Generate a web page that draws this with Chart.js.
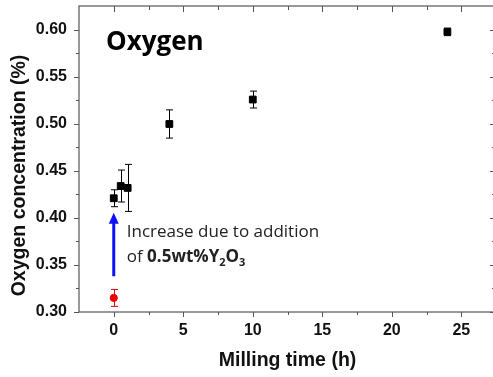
<!DOCTYPE html>
<html>
<head>
<meta charset="utf-8">
<script src="https://cdn.jsdelivr.net/npm/chart.js@4/dist/chart.umd.min.js"></script>
<style>
  html, body { margin: 0; padding: 0; background: #fff; }
  canvas { display: block; }
</style>
</head>
<body>
<canvas id="chart" width="493" height="377"></canvas>
<script>
// Milled powder (black squares) and the unmilled reference (red dot)
const millTime = [0, 0.5, 1, 4, 10, 24];
const oxygen = [0.421, 0.434, 0.432, 0.500, 0.526, 0.598];
const oxygenErr = [0.009, 0.017, 0.025, 0.015, 0.009, 0.004];

const refTime = [0];
const refOxygen = [0.315];
const refErr = [0.009];

// Axis ticks; the original frame ends at 27.5 h, just past the cropped right edge
const xMajor = [0, 5, 10, 15, 20, 25];
const xMinor = [2.5, 7.5, 12.5, 17.5, 22.5];
const xFrameEnd = 27.5;
const yMajor = [0.30, 0.35, 0.40, 0.45, 0.50, 0.55, 0.60];
const yMinor = [0.325, 0.375, 0.425, 0.475, 0.525, 0.575];

// Arrow (x, y from, y to) and annotation anchors
const arrowAt = [0, 0.338, 0.4057];
const noteY = [0.380, 0.3527];

const frameColor = '#555';
const titleFont = "bold 19.5px 'Liberation Sans', Arial, sans-serif";

function toPoints(xs, ys) {
    return xs.map((v, i) => ({ x: v, y: ys[i] }));
}

function line(ctx, x1, y1, x2, y2) {
    ctx.beginPath();
    ctx.moveTo(x1, y1);
    ctx.lineTo(x2, y2);
    ctx.stroke();
}

// error bars under the markers
const errorBars = {
    id: 'errorBars',
    beforeDatasetsDraw(chart) {
        const { ctx, scales: { x, y } } = chart;
        const sets = [
            { xs: millTime, ys: oxygen, es: oxygenErr, color: '#000' },
            { xs: refTime, ys: refOxygen, es: refErr, color: '#e00000' }
        ];
        ctx.save();
        ctx.lineWidth = 1;
        sets.forEach(s => {
            ctx.strokeStyle = s.color;
            s.xs.forEach((t, i) => {
                const px = Math.round(x.getPixelForValue(t)) + 0.5;
                const top = y.getPixelForValue(s.ys[i] + s.es[i]);
                const bot = y.getPixelForValue(s.ys[i] - s.es[i]);
                line(ctx, px, top, px, bot);
                line(ctx, px - 3.5, top, px + 3.5, top);
                line(ctx, px - 3.5, bot, px + 3.5, bot);
            });
        });
        ctx.restore();
    }
};

// frame, mirrored ticks, arrow and texts
const decorations = {
    id: 'decorations',
    afterDraw(chart) {
        const { ctx, chartArea: a, scales: { x, y } } = chart;
        const right = x.getPixelForValue(xFrameEnd);
        ctx.save();
        ctx.strokeStyle = frameColor;
        ctx.lineWidth = 1.2;
        ctx.strokeRect(a.left, a.top, right - a.left, a.bottom - a.top);

        ctx.lineWidth = 1;
        xMajor.concat(xMinor).forEach(v => {
            const len = xMajor.includes(v) ? 5 : 3;
            const px = Math.round(x.getPixelForValue(v)) + 0.5;
            line(ctx, px, a.bottom, px, a.bottom + len);
            line(ctx, px, a.top, px, a.top + len + 1);
        });
        yMajor.concat(yMinor).forEach(v => {
            const len = yMajor.includes(v) ? 5 : 3;
            const py = Math.round(y.getPixelForValue(v)) + 0.5;
            line(ctx, a.left, py, a.left - len, py);
            line(ctx, right, py, right - len - 1, py);
        });

        // blue arrow
        const ax = x.getPixelForValue(arrowAt[0]);
        const ay1 = y.getPixelForValue(arrowAt[1]);
        const ay2 = y.getPixelForValue(arrowAt[2]);
        ctx.strokeStyle = '#1010ff';
        ctx.fillStyle = '#1010ff';
        ctx.lineWidth = 3;
        line(ctx, ax, ay1, ax, ay2 + 8);
        ctx.beginPath();
        ctx.moveTo(ax, ay2);
        ctx.lineTo(ax - 5, ay2 + 11);
        ctx.lineTo(ax + 5, ay2 + 11);
        ctx.closePath();
        ctx.fill();

        // annotation
        ctx.fillStyle = '#222';
        ctx.textAlign = 'left';
        ctx.textBaseline = 'alphabetic';
        const nx = ax + 13;
        ctx.font = "17px 'Open Sans', sans-serif";
        ctx.fillText('Increase due to addition', nx, y.getPixelForValue(noteY[0]));
        const parts = [
            { t: 'of ', f: "17px 'Open Sans', sans-serif", dy: 0 },
            { t: '0.5wt%Y', f: "bold 17px 'Open Sans', sans-serif", dy: 0 },
            { t: '2', f: "bold 11px 'Open Sans', sans-serif", dy: 4 },
            { t: 'O', f: "bold 17px 'Open Sans', sans-serif", dy: 0 },
            { t: '3', f: "bold 11px 'Open Sans', sans-serif", dy: 4 }
        ];
        let cx = nx;
        const by = y.getPixelForValue(noteY[1]);
        parts.forEach(p => {
            ctx.font = p.f;
            ctx.fillText(p.t, cx, by + p.dy);
            cx += ctx.measureText(p.t).width;
        });

        // panel label
        ctx.fillStyle = '#000';
        ctx.font = "bold 26px 'Open Sans', sans-serif";
        ctx.fillText('Oxygen', a.left + 27, a.top + 44);

        // axis titles
        ctx.fillStyle = '#111';
        ctx.font = titleFont;
        ctx.textAlign = 'center';
        ctx.fillText('Milling time (h)', 287.5, 366);
        ctx.translate(24.5, 175.5);
        ctx.rotate(-Math.PI / 2);
        ctx.fillText('Oxygen concentration (%)', 0, 0);
        ctx.restore();
    }
};

new Chart(document.getElementById('chart'), {
    type: 'scatter',
    data: {
        datasets: [
            {
                label: 'Milled',
                data: toPoints(millTime, oxygen),
                pointStyle: 'rect',
                pointRadius: 4.8,
                pointHoverRadius: 4.8,
                backgroundColor: '#000',
                borderColor: '#000',
                borderWidth: 1
            },
            {
                label: 'As received',
                data: toPoints(refTime, refOxygen),
                pointStyle: 'circle',
                pointRadius: 3.6,
                pointHoverRadius: 3.6,
                backgroundColor: '#f00000',
                borderColor: '#f00000',
                borderWidth: 1
            }
        ]
    },
    options: {
        responsive: false,
        animation: false,
        events: [],
        layout: { autoPadding: false, padding: { top: 6, right: 0, left: 0, bottom: 0 } },
        plugins: {
            legend: { display: false },
            tooltip: { enabled: false }
        },
        scales: {
            x: {
                type: 'linear',
                min: -2.5,
                max: 27.28,
                afterBuildTicks: s => { s.ticks = xMajor.map(v => ({ value: v })); },
                afterFit: s => {
                    s.height = 65;
                    s.paddingLeft = 0;
                    s.paddingRight = 0;
                },
                grid: { display: false, drawTicks: false },
                border: { display: false },
                ticks: {
                    padding: 9,
                    color: '#111',
                    font: { family: "'Liberation Sans', Arial, sans-serif", size: 16, weight: 'bold' },
                    maxRotation: 0
                }
            },
            y: {
                type: 'linear',
                min: 0.30,
                max: 0.6255,
                afterBuildTicks: s => { s.ticks = yMajor.map(v => ({ value: v })); },
                afterFit: s => {
                    s.width = 79;
                    s.paddingTop = 0;
                    s.paddingBottom = 0;
                },
                grid: { display: false, drawTicks: false },
                border: { display: false },
                ticks: {
                    padding: 12,
                    color: '#111',
                    font: { family: "'Liberation Sans', Arial, sans-serif", size: 16, weight: 'bold' },
                    callback: v => v.toFixed(2)
                }
            }
        }
    },
    plugins: [errorBars, decorations]
});
</script>
</body>
</html>
